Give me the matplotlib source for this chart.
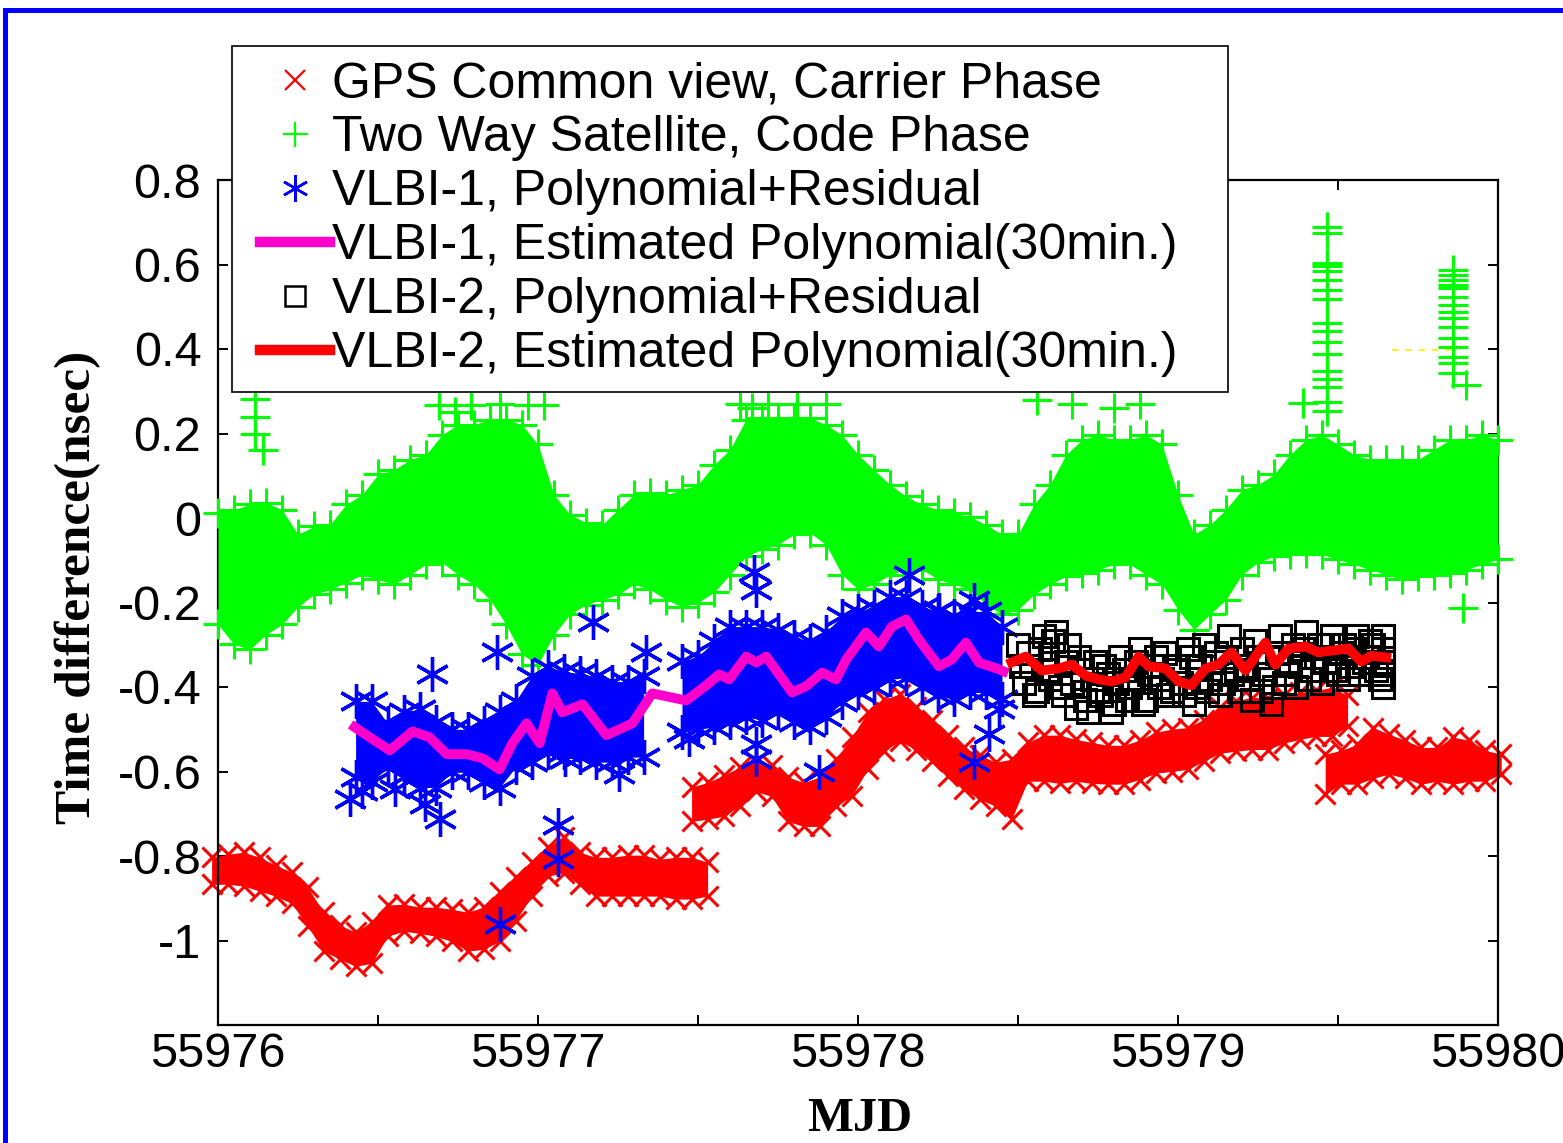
import matplotlib
matplotlib.use('Agg')
import matplotlib.pyplot as plt
from matplotlib.lines import Line2D
from matplotlib.legend_handler import HandlerLine2D
from matplotlib.patches import Rectangle

# ---------------- data ----------------
# GPS common view, carrier phase: band envelopes (upper / lower marker centres)
gps1_t = [55975.98, 55976.03, 55976.08, 55976.13, 55976.18, 55976.23, 55976.28, 55976.33,
          55976.38, 55976.43, 55976.48, 55976.53, 55976.58, 55976.63, 55976.68, 55976.73,
          55976.78, 55976.83, 55976.88, 55976.93, 55976.98, 55977.03, 55977.08, 55977.13,
          55977.18, 55977.23, 55977.28, 55977.33, 55977.38, 55977.43, 55977.48, 55977.53]
gps1_hi = [-0.803, -0.796, -0.791, -0.803, -0.822, -0.838, -0.874, -0.933, -0.964, -0.980,
           -0.956, -0.916, -0.914, -0.921, -0.921, -0.926, -0.933, -0.921, -0.886, -0.850,
           -0.815, -0.779, -0.755, -0.791, -0.803, -0.803, -0.798, -0.798, -0.808, -0.803,
           -0.803, -0.815]
gps1_lo = [-0.867, -0.867, -0.871, -0.883, -0.895, -0.912, -0.966, -1.025, -1.044, -1.061,
           -1.054, -0.990, -0.978, -0.983, -0.990, -1.002, -1.025, -1.021, -1.002, -0.954,
           -0.895, -0.848, -0.840, -0.867, -0.895, -0.895, -0.895, -0.895, -0.895, -0.902,
           -0.902, -0.895]

gps2_t = [55977.48, 55977.53, 55977.58, 55977.63, 55977.68, 55977.73, 55977.78, 55977.83,
          55977.88, 55977.93, 55977.98, 55978.03, 55978.08, 55978.13, 55978.18, 55978.23,
          55978.28, 55978.33, 55978.38, 55978.43, 55978.48, 55978.53, 55978.58, 55978.63,
          55978.68, 55978.73, 55978.78, 55978.83, 55978.88, 55978.93, 55978.98, 55979.03,
          55979.08, 55979.13, 55979.18, 55979.23, 55979.28, 55979.33, 55979.38, 55979.43,
          55979.48, 55979.53]
gps2_hi = [-0.637, -0.626, -0.609, -0.590, -0.578, -0.585, -0.613, -0.626, -0.613, -0.571,
           -0.519, -0.460, -0.429, -0.417, -0.448, -0.477, -0.514, -0.543, -0.561, -0.578,
           -0.571, -0.531, -0.514, -0.514, -0.524, -0.531, -0.538, -0.538, -0.526, -0.507,
           -0.500, -0.496, -0.477, -0.448, -0.432, -0.425, -0.425, -0.420, -0.413, -0.408,
           -0.401, -0.420]
gps2_lo = [-0.718, -0.713, -0.706, -0.682, -0.647, -0.659, -0.718, -0.730, -0.730, -0.682,
           -0.659, -0.595, -0.552, -0.528, -0.548, -0.576, -0.611, -0.642, -0.666, -0.682,
           -0.713, -0.623, -0.623, -0.628, -0.623, -0.628, -0.630, -0.630, -0.619, -0.604,
           -0.600, -0.595, -0.576, -0.557, -0.552, -0.548, -0.548, -0.533, -0.524, -0.517,
           -0.517, -0.493]

gps3_t = [55979.46, 55979.51, 55979.56, 55979.61, 55979.66, 55979.71, 55979.76, 55979.81,
          55979.86, 55979.91, 55979.96, 55980.01]
gps3_hi = [-0.559, -0.550, -0.536, -0.496, -0.512, -0.526, -0.543, -0.543, -0.519, -0.526,
           -0.550, -0.559]
gps3_lo = [-0.654, -0.630, -0.630, -0.616, -0.606, -0.616, -0.630, -0.623, -0.630, -0.623,
           -0.623, -0.606]

# Two way satellite, code phase: band envelopes
tw_t = [55976.00, 55976.05, 55976.10, 55976.15, 55976.20, 55976.25, 55976.30, 55976.35,
        55976.40, 55976.45, 55976.50, 55976.55, 55976.60, 55976.65, 55976.70, 55976.75,
        55976.80, 55976.85, 55976.90, 55976.95, 55977.00, 55977.05, 55977.10, 55977.15,
        55977.20, 55977.25, 55977.30, 55977.35, 55977.40, 55977.45, 55977.50, 55977.55,
        55977.60, 55977.65, 55977.70, 55977.75, 55977.80, 55977.85, 55977.90, 55977.95,
        55978.00, 55978.05, 55978.10, 55978.15, 55978.20, 55978.25, 55978.30, 55978.35,
        55978.40, 55978.45, 55978.50, 55978.55, 55978.60, 55978.65, 55978.70, 55978.75,
        55978.80, 55978.85, 55978.90, 55978.95, 55979.00, 55979.05, 55979.10, 55979.15,
        55979.20, 55979.25, 55979.30, 55979.35, 55979.40, 55979.45, 55979.50, 55979.55,
        55979.60, 55979.65, 55979.70, 55979.75, 55979.80, 55979.85, 55979.90, 55979.95,
        55980.00]
tw_hi = [0.013, 0.020, 0.032, 0.036, 0.020, -0.039, -0.020, -0.016, 0.032, 0.055,
         0.103, 0.114, 0.138, 0.150, 0.197, 0.221, 0.221, 0.233, 0.233, 0.221,
         0.174, 0.055, 0.008, -0.011, -0.016, 0.020, 0.055, 0.060, 0.055, 0.067,
         0.079, 0.126, 0.162, 0.233, 0.237, 0.237, 0.237, 0.237, 0.221, 0.197,
         0.150, 0.114, 0.079, 0.051, 0.032, 0.020, 0.013, 0.003, -0.016, -0.039,
         -0.039, 0.032, 0.079, 0.150, 0.185, 0.197, 0.185, 0.185, 0.197, 0.174,
         0.055, -0.039, -0.016, 0.020, 0.067, 0.079, 0.103, 0.150, 0.185, 0.197,
         0.174, 0.150, 0.138, 0.138, 0.138, 0.138, 0.162, 0.185, 0.185, 0.197, 0.185]
tw_lo = [-0.252, -0.299, -0.311, -0.276, -0.252, -0.210, -0.181, -0.169, -0.153, -0.134,
         -0.145, -0.157, -0.134, -0.110, -0.105, -0.134, -0.157, -0.193, -0.252, -0.323,
         -0.347, -0.276, -0.228, -0.205, -0.193, -0.181, -0.157, -0.169, -0.193, -0.210,
         -0.200, -0.176, -0.134, -0.091, -0.074, -0.063, -0.039, -0.035, -0.063, -0.134,
         -0.169, -0.157, -0.134, -0.122, -0.122, -0.145, -0.157, -0.169, -0.205, -0.228,
         -0.217, -0.181, -0.157, -0.138, -0.129, -0.122, -0.110, -0.110, -0.134, -0.157,
         -0.217, -0.264, -0.228, -0.193, -0.134, -0.105, -0.091, -0.086, -0.082, -0.086,
         -0.098, -0.110, -0.122, -0.134, -0.145, -0.138, -0.134, -0.129, -0.122, -0.110, -0.098]
# isolated / spike points of the two-way series
tw_spk_t = [55976.115, 55976.115, 55976.115, 55976.14,
            55976.69, 55976.74, 55976.79, 55976.88, 55976.97, 55977.02,
            55977.63, 55977.67, 55977.72, 55977.81, 55977.90,
            55978.56, 55978.67, 55978.80, 55978.88, 55979.39, 55979.90, 55979.891,
            55979.466, 55979.466, 55979.466, 55979.466, 55979.466, 55979.466, 55979.466,
            55979.466, 55979.466, 55979.466, 55979.466, 55979.466, 55979.466, 55979.466,
            55979.466, 55979.466, 55979.466,
            55979.86, 55979.86, 55979.86, 55979.86, 55979.86, 55979.86, 55979.86, 55979.86,
            55979.86, 55979.86, 55979.86, 55979.86, 55979.86, 55979.86, 55979.86]
tw_spk_v = [0.282, 0.240, 0.200, 0.160,
            0.268, 0.250, 0.268, 0.270, 0.268, 0.268,
            0.270, 0.260, 0.270, 0.270, 0.270,
            0.280, 0.270, 0.260, 0.270, 0.273, 0.315, -0.212,
            0.689, 0.675, 0.604, 0.597, 0.585, 0.564, 0.540, 0.519, 0.462, 0.443, 0.417,
            0.389, 0.349, 0.330, 0.311, 0.275, 0.254,
            0.587, 0.575, 0.564, 0.552, 0.545, 0.524, 0.505, 0.488, 0.474, 0.453, 0.427,
            0.405, 0.382, 0.368, 0.344]

# VLBI-1, polynomial + residual: band envelopes and outliers
v1a_t = [55976.43, 55976.48, 55976.53, 55976.58, 55976.63, 55976.68, 55976.73, 55976.78,
         55976.83, 55976.88, 55976.93, 55976.98, 55977.03, 55977.08, 55977.13, 55977.18,
         55977.23, 55977.28, 55977.33]
v1a_hi = [-0.434, -0.434, -0.486, -0.458, -0.453, -0.482, -0.500, -0.500, -0.486, -0.458,
          -0.434, -0.375, -0.352, -0.363, -0.368, -0.375, -0.387, -0.387, -0.375]
v1a_lo = [-0.614, -0.625, -0.590, -0.614, -0.638, -0.638, -0.602, -0.602, -0.625, -0.638,
          -0.590, -0.578, -0.555, -0.555, -0.566, -0.578, -0.578, -0.566, -0.566]
v1b_t = [55977.45, 55977.50, 55977.55, 55977.60, 55977.65, 55977.70, 55977.75, 55977.80,
         55977.85, 55977.90, 55977.95, 55978.00, 55978.05, 55978.10, 55978.15, 55978.20,
         55978.25, 55978.30, 55978.35, 55978.40, 55978.45]
v1b_hi = [-0.339, -0.328, -0.292, -0.257, -0.257, -0.257, -0.264, -0.281, -0.292, -0.269,
          -0.233, -0.221, -0.210, -0.186, -0.186, -0.210, -0.221, -0.233, -0.221, -0.221, -0.257]
v1b_lo = [-0.507, -0.500, -0.495, -0.484, -0.472, -0.477, -0.460, -0.484, -0.495, -0.472,
          -0.436, -0.413, -0.401, -0.382, -0.378, -0.401, -0.420, -0.429, -0.413, -0.413, -0.429]
v1_out_t = [55976.412, 55976.449, 55976.552, 55976.646, 55976.693, 55976.668, 55976.871,
            55976.880, 55977.061, 55977.061, 55977.173, 55977.083, 55977.254, 55977.339,
            55977.473, 55977.676, 55977.682, 55977.682, 55977.682, 55977.878, 55978.159,
            55978.253, 55978.362, 55978.362, 55978.409, 55978.440]
v1_out_v = [-0.666, -0.647, -0.642, -0.678, -0.713, -0.370, -0.316,
            -0.961, -0.727, -0.808, -0.245, -0.571, -0.606, -0.316,
            -0.524, -0.128, -0.170, -0.536, -0.571, -0.602, -0.134,
            -0.217, -0.193, -0.578, -0.512, -0.453]

# VLBI-1, estimated polynomial (30 min.)
p1_t = [55976.427, 55976.484, 55976.537, 55976.608, 55976.661, 55976.715, 55976.777,
        55976.827, 55976.880, 55976.920, 55976.964, 55977.005, 55977.045, 55977.076,
        55977.139, 55977.214, 55977.295, 55977.357, 55977.463, 55977.526, 55977.566,
        55977.597, 55977.651, 55977.682, 55977.713, 55977.794, 55977.838, 55977.888,
        55977.931, 55977.963, 55978.025, 55978.065, 55978.106, 55978.150, 55978.190,
        55978.253, 55978.293, 55978.337, 55978.378, 55978.440, 55978.455]
p1_v = [-0.495, -0.524, -0.550, -0.505, -0.519, -0.559, -0.559,
        -0.569, -0.595, -0.533, -0.486, -0.533, -0.415, -0.460,
        -0.441, -0.514, -0.486, -0.415, -0.432, -0.396, -0.370,
        -0.382, -0.328, -0.342, -0.328, -0.413, -0.398, -0.366,
        -0.382, -0.335, -0.271, -0.304, -0.257, -0.240, -0.288,
        -0.351, -0.335, -0.295, -0.342, -0.358, -0.363]

# VLBI-2, polynomial + residual (two interleaved readings of the dense cloud)
v2_t = [55978.50, 55978.52, 55978.54, 55978.56, 55978.58, 55978.60, 55978.62, 55978.64,
        55978.66, 55978.68, 55978.70, 55978.72, 55978.74, 55978.76, 55978.78, 55978.80,
        55978.82, 55978.84, 55978.86, 55978.88, 55978.90, 55978.92, 55978.94, 55978.96,
        55978.98, 55979.00, 55979.02, 55979.04, 55979.06, 55979.08, 55979.10, 55979.12,
        55979.14, 55979.16, 55979.18, 55979.20, 55979.22, 55979.24, 55979.26, 55979.28,
        55979.30, 55979.32, 55979.34, 55979.36, 55979.38, 55979.40, 55979.42, 55979.44,
        55979.46, 55979.48, 55979.50, 55979.52, 55979.54, 55979.56, 55979.58, 55979.60,
        55979.62, 55979.64, 55979.64, 55979.64, 55979.64, 55979.64]
v2_v = [-0.30, -0.39, -0.35, -0.41, -0.28, -0.38, -0.27, -0.42,
        -0.30, -0.45, -0.36, -0.46, -0.34, -0.42, -0.37, -0.44,
        -0.33, -0.43, -0.38, -0.31, -0.43, -0.35, -0.40, -0.32,
        -0.41, -0.36, -0.42, -0.33, -0.40, -0.30, -0.38, -0.32,
        -0.39, -0.28, -0.36, -0.31, -0.38, -0.29, -0.41, -0.33,
        -0.40, -0.28, -0.37, -0.30, -0.35, -0.27, -0.36, -0.30,
        -0.34, -0.28, -0.37, -0.30, -0.35, -0.28, -0.34, -0.29,
        -0.36, -0.28, -0.31, -0.34, -0.37, -0.40]
v2b_t = [55978.51, 55978.53, 55978.55, 55978.57, 55978.59, 55978.61, 55978.63, 55978.65,
         55978.67, 55978.69, 55978.71, 55978.73, 55978.75, 55978.77, 55978.79, 55978.81,
         55978.83, 55978.85, 55978.87, 55978.89, 55978.91, 55978.93, 55978.95, 55978.97,
         55978.99, 55979.01, 55979.03, 55979.05, 55979.07, 55979.09, 55979.11, 55979.13,
         55979.15, 55979.17, 55979.19, 55979.21, 55979.23, 55979.25, 55979.27, 55979.29,
         55979.31, 55979.33, 55979.35, 55979.37, 55979.39, 55979.41, 55979.43, 55979.45,
         55979.47, 55979.49, 55979.51, 55979.53, 55979.55, 55979.57, 55979.59, 55979.61,
         55979.63]
v2b_v = [-0.35, -0.32, -0.42, -0.31, -0.36, -0.29, -0.40, -0.34,
         -0.39, -0.33, -0.43, -0.38, -0.41, -0.35, -0.46, -0.39,
         -0.36, -0.40, -0.34, -0.44, -0.37, -0.33, -0.38, -0.42,
         -0.35, -0.39, -0.31, -0.44, -0.35, -0.41, -0.34, -0.42,
         -0.33, -0.37, -0.41, -0.35, -0.43, -0.33, -0.37, -0.44,
         -0.32, -0.39, -0.34, -0.40, -0.31, -0.38, -0.33, -0.39,
         -0.30, -0.36, -0.32, -0.38, -0.31, -0.37, -0.33, -0.30,
         -0.38]

# VLBI-2, estimated polynomial (30 min.)
p2_t = [55978.480, 55978.524, 55978.574, 55978.627, 55978.668, 55978.711, 55978.752,
        55978.793, 55978.836, 55978.877, 55978.908, 55978.961, 55979.002, 55979.042,
        55979.086, 55979.126, 55979.167, 55979.211, 55979.251, 55979.273, 55979.304,
        55979.345, 55979.398, 55979.438, 55979.479, 55979.532, 55979.573, 55979.604,
        55979.651]
p2_v = [-0.342, -0.328, -0.361, -0.356, -0.347, -0.373, -0.382,
        -0.387, -0.377, -0.328, -0.351, -0.356, -0.387, -0.396,
        -0.356, -0.347, -0.318, -0.361, -0.318, -0.295, -0.347,
        -0.309, -0.304, -0.318, -0.314, -0.309, -0.340, -0.326,
        -0.330]

# small yellow dashed trace near the top right
yel_t = [55979.67, 55979.88]
yel_v = [0.397, 0.397]

labels = ['GPS Common view, Carrier Phase',
          'Two Way Satellite, Code Phase',
          'VLBI-1, Polynomial+Residual',
          'VLBI-1, Estimated Polynomial(30min.)',
          'VLBI-2, Polynomial+Residual',
          'VLBI-2, Estimated Polynomial(30min.)']
xticks_major = [55976, 55977, 55978, 55979, 55980]
xticks_minor = [55976.5, 55977.5, 55978.5, 55979.5]
yticks = [0.8, 0.6, 0.4, 0.2, 0, -0.2, -0.4, -0.6, -0.8, -1]
ytick_labels = ['0.8', '0.6', '0.4', '0.2', '0', '-0.2', '-0.4', '-0.6', '-0.8', '-1']

# ---------------- styling ----------------
RED = '#ff0000'
GREEN = '#00ff00'
BLUE = '#0000ff'
MAGENTA = '#ff00cc'
ASTER = (6, 2, 0)

W, H = 1563, 1143
fig = plt.figure(figsize=(W / 100, H / 100), dpi=100)
ax = fig.add_axes([218 / W, 1 - 1025 / H, 1280 / W, 845 / H])


def band(t, hi, lo, color, marker, ms, mew, z):
    ax.fill_between(t, lo, hi, color=color, lw=0, zorder=z, clip_on=False)
    for v in (hi, lo):
        ax.plot(t, v, ls='none', marker=marker, ms=ms, mew=mew, color=color,
                zorder=z, clip_on=False)


# GPS
band(gps1_t, gps1_hi, gps1_lo, RED, 'x', 14, 2.2, 2)
band(gps2_t, gps2_hi, gps2_lo, RED, 'x', 14, 2.2, 2)
band(gps3_t, gps3_hi, gps3_lo, RED, 'x', 14, 2.2, 2)

# Two way
band(tw_t, tw_hi, tw_lo, GREEN, '+', 21, 2.2, 3)
ax.plot(tw_spk_t, tw_spk_v, ls='none', marker='+', ms=21, mew=2.2, color=GREEN,
        zorder=3, clip_on=False)

# VLBI-1
band(v1a_t, v1a_hi, v1a_lo, BLUE, ASTER, 25, 2.4, 4)
band(v1b_t, v1b_hi, v1b_lo, BLUE, ASTER, 25, 2.4, 4)
ax.plot(v1_out_t, v1_out_v, ls='none', marker=ASTER, ms=25, mew=2.4, color=BLUE,
        zorder=4, clip_on=False)
ax.plot(p1_t, p1_v, color=MAGENTA, lw=7, zorder=5)

# VLBI-2
for tt, vv in ((v2_t, v2_v), (v2b_t, v2b_v)):
    ax.plot(tt, vv, ls='none', marker='s', ms=16, mew=2.2, mfc='none', mec='black',
            zorder=6, clip_on=False)
ax.plot(p2_t, p2_v, color=RED, lw=7, zorder=7)

ax.plot(yel_t, yel_v, color='#ffee00', lw=1.2, ls=(0, (4, 4)), zorder=3)

# axes
ax.set_xlim(55976, 55980)
ax.set_ylim(-1.2, 0.8)
ax.set_xticks(xticks_major, [str(v) for v in xticks_major])
ax.set_xticks(xticks_minor, minor=True)
ax.set_yticks(yticks, ytick_labels)
for s in ax.spines.values():
    s.set_linewidth(1.6)
ax.tick_params(which='both', direction='in', length=7.5, width=1.4,
               top=True, right=True)
ax.tick_params(axis='x', which='major', labelsize=35, pad=5)
ax.tick_params(axis='y', which='major', labelsize=35, pad=12)
for lab in ax.get_xticklabels() + ax.get_yticklabels():
    lab.set_family('Liberation Sans')

ax.set_xlabel('MJD', family='Liberation Serif', fontweight='bold', fontsize=35,
              va='bottom')
ax.xaxis.set_label_coords(0.5016, -0.1373)
ax.set_ylabel('Time difference(nsec)', family='Liberation Serif', fontweight='bold',
              fontsize=37)
ax.yaxis.set_label_coords(-0.0914, 0.518)

# legend
handles = [
    Line2D([], [], ls='none', marker='x', color=RED, ms=15, mew=1.6),
    Line2D([], [], ls='none', marker='+', color=GREEN, ms=18, mew=1.6),
    Line2D([], [], ls='none', marker=ASTER, color=BLUE, ms=19, mew=1.8),
    Line2D([], [], color=MAGENTA, lw=7.5),
    Line2D([], [], ls='none', marker='s', mfc='none', mec='black', color='black', ms=14, mew=1.8),
    Line2D([], [], color=RED, lw=7.5),
]
leg = fig.legend(handles, labels, loc='upper left',
                 bbox_to_anchor=(232 / W, 1 - 400 / H, 996 / W, 354 / H),
                 mode='expand', borderaxespad=0, borderpad=0.3, labelspacing=0.16,
                 handlelength=1.66, handletextpad=0.05,
                 prop={'family': 'Liberation Sans', 'size': 36},
                 frameon=True, fancybox=False, edgecolor='black', framealpha=1,
                 handler_map={Line2D: HandlerLine2D(xpad=0.26)})
leg.get_frame().set_linewidth(1.2)

# blue frame round the picture
fig.patches.append(Rectangle((5 / W, -0.2), 1.2, 1.2 - 10 / H, transform=fig.transFigure,
                             fill=False, edgecolor=BLUE, lw=3.6, clip_on=False))

fig.savefig('out.png', dpi=100)
